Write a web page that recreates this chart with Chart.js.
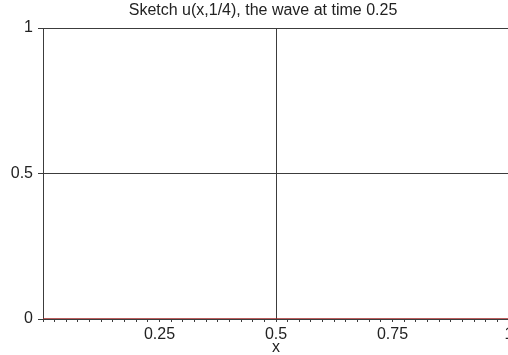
<!DOCTYPE html>
<html>
<head>
<meta charset="utf-8">
<script src="https://cdn.jsdelivr.net/npm/chart.js@4/dist/chart.umd.min.js"></script>
<style>
html, body { margin: 0; padding: 0; background: #fff; overflow: hidden; width: 508px; height: 355px; }
#wrap { position: relative; width: 530px; height: 355px; }
#title { position: absolute; left: 0; width: 526px; top: 1px; text-align: center;
         font: 16px "Liberation Sans", Arial, sans-serif; color: #222; }
canvas { position: absolute; left: 0; top: 0; }
</style>
</head>
<body>
<div id="wrap">
  <canvas id="plot" width="530" height="355"></canvas>
  <div id="title">Sketch u(x,1/4), the wave at time 0.25</div>
</div>
<script>
// ----------------------------
// data: u(x, 1/4) sampled along x
// ----------------------------
const xValues = [0, 0.25, 0.5, 0.75, 1];
const uValues = [0, 0, 0, 0, 0];
const xTickLabels = [0.25, 0.5, 0.75, 1];
const yTickLabels = [0, 0.5, 1];

const lineColor = "#3c3c3c";
const font = { family: "'Liberation Sans', Arial, sans-serif", size: 16 };

new Chart(document.getElementById("plot"), {
  type: "line",
  data: {
    datasets: [{
      data: xValues.map((x, i) => ({ x: x, y: uValues[i] })),
      borderColor: "#a52828",
      borderWidth: 1.5,
      pointRadius: 0,
      tension: 0
    }]
  },
  options: {
    responsive: false,
    animation: false,
    layout: { padding: { top: 28, right: 21, left: 0, bottom: 0 } },
    plugins: { legend: { display: false }, tooltip: { enabled: false } },
    scales: {
      x: {
        type: "linear",
        min: 0,
        max: 1,
        afterFit: s => { s.height = 36; },
        afterBuildTicks: s => {
          const t = [];
          for (let i = 0; i <= 40; i++) t.push({ value: i / 40 });
          s.ticks = t;
        },
        ticks: {
          autoSkip: false,
          maxRotation: 0,
          padding: 3,
          color: "#222",
          font: font,
          callback: v => {
            const hit = xTickLabels.find(l => Math.abs(l - v) < 1e-6);
            return hit === undefined ? "" : String(hit);
          }
        },
        grid: {
          drawTicks: true,
          tickLength: 3,
          tickColor: lineColor,
          color: ctx => Math.abs(ctx.tick.value - 0.5) < 1e-6 ? lineColor : "rgba(0,0,0,0)",
          lineWidth: 1
        },
        border: { color: lineColor, width: 1 },
        title: { display: true, text: "x", color: "#222", font: font, padding: { top: 0, bottom: -2 } }
      },
      y: {
        type: "linear",
        min: 0,
        max: 1,
        afterFit: s => { s.width = 43; },
        afterBuildTicks: s => { s.ticks = yTickLabels.map(v => ({ value: v })); },
        ticks: { color: "#222", font: font, padding: 5, callback: v => String(v) },
        grid: { color: lineColor, tickColor: lineColor, tickLength: 5, lineWidth: 1 },
        border: { color: lineColor, width: 1 }
      }
    }
  }
});
</script>
</body>
</html>
